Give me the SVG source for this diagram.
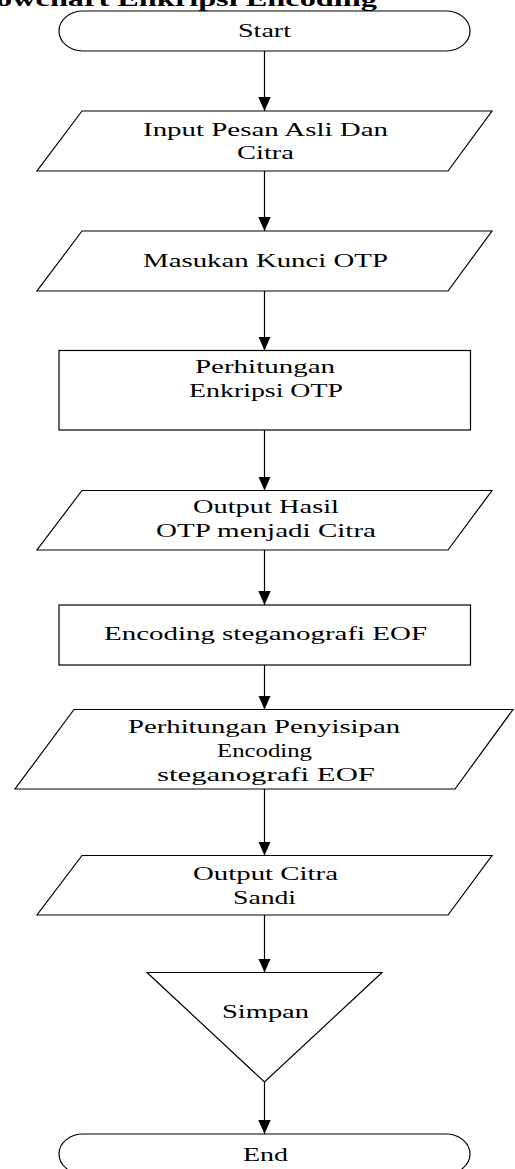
<svg xmlns="http://www.w3.org/2000/svg" width="515" height="1169" viewBox="0 0 515 1169">
<defs>
<style>
.s{fill:#fff;stroke:#000;stroke-width:1.2}
.c{stroke:#000;stroke-width:1.2;fill:none}
text{font-family:"Liberation Serif","Times New Roman",serif;font-size:19px;fill:#000}
.t{font-weight:bold;font-size:21px}
</style>
<marker id="ah" viewBox="0 0 12.4 14" refX="6.2" refY="14" markerWidth="12.4" markerHeight="14" markerUnits="userSpaceOnUse" orient="0">
<path d="M0,0 L12.4,0 L6.2,14 z" fill="#000"/>
</marker>
</defs>
<rect width="515" height="1169" fill="#fff"/>
<text class="t" x="-4" y="6" textLength="381" lengthAdjust="spacingAndGlyphs">owchart Enkripsi  Encoding</text>
<g id="connectors">
<line class="c" x1="264.5" y1="51" x2="264.5" y2="111" marker-end="url(#ah)"/>
<line class="c" x1="264.5" y1="171" x2="264.5" y2="231" marker-end="url(#ah)"/>
<line class="c" x1="264.5" y1="291" x2="264.5" y2="350.5" marker-end="url(#ah)"/>
<line class="c" x1="264.5" y1="430" x2="264.5" y2="490.5" marker-end="url(#ah)"/>
<line class="c" x1="264.5" y1="550" x2="264.5" y2="605" marker-end="url(#ah)"/>
<line class="c" x1="264.5" y1="665" x2="264.5" y2="709.5" marker-end="url(#ah)"/>
<line class="c" x1="264.5" y1="789" x2="264.5" y2="855.5" marker-end="url(#ah)"/>
<line class="c" x1="264.5" y1="915" x2="264.5" y2="972.5" marker-end="url(#ah)"/>
<line class="c" x1="264.5" y1="1082" x2="264.5" y2="1134" marker-end="url(#ah)"/>
</g>
<g id="start">
<rect class="s" x="59" y="11" width="411" height="40" rx="24" ry="20"/>
<text x="238" y="37" textLength="53" lengthAdjust="spacingAndGlyphs">Start</text>
</g>
<g id="input">
<polygon class="s" points="82,111 492,111 448,171 37,171"/>
<text x="143" y="135.7" textLength="245" lengthAdjust="spacingAndGlyphs">Input Pesan Asli Dan</text>
<text x="237" y="159.3" textLength="57" lengthAdjust="spacingAndGlyphs">Citra</text>
</g>
<g id="kunci">
<polygon class="s" points="82,231 492,231 448,291 37,291"/>
<text x="143" y="266.7" textLength="245" lengthAdjust="spacingAndGlyphs">Masukan Kunci OTP</text>
</g>
<g id="enkripsi">
<rect class="s" x="59" y="350.5" width="411.5" height="79.5"/>
<text x="195" y="372.7" textLength="140" lengthAdjust="spacingAndGlyphs">Perhitungan</text>
<text x="189" y="396.7" textLength="154" lengthAdjust="spacingAndGlyphs">Enkripsi OTP</text>
</g>
<g id="output-otp">
<polygon class="s" points="82,490.5 492,490.5 448,550 37,550"/>
<text x="193" y="513.3" textLength="146" lengthAdjust="spacingAndGlyphs">Output Hasil</text>
<text x="156" y="537.3" textLength="220" lengthAdjust="spacingAndGlyphs">OTP menjadi Citra</text>
</g>
<g id="encoding">
<rect class="s" x="59" y="605" width="411.5" height="60"/>
<text x="104" y="640" textLength="323" lengthAdjust="spacingAndGlyphs">Encoding steganografi EOF</text>
</g>
<g id="penyisipan">
<polygon class="s" points="74,709.5 513,709.5 455,789 15,789"/>
<text x="128" y="733.3" textLength="272" lengthAdjust="spacingAndGlyphs">Perhitungan Penyisipan</text>
<text x="217" y="757.3" textLength="95" lengthAdjust="spacingAndGlyphs">Encoding</text>
<text x="157" y="781" textLength="218" lengthAdjust="spacingAndGlyphs">steganografi EOF</text>
</g>
<g id="output-sandi">
<polygon class="s" points="82,855.5 492,855.5 448,915 37,915"/>
<text x="193" y="880" textLength="145" lengthAdjust="spacingAndGlyphs">Output Citra</text>
<text x="233" y="904" textLength="63" lengthAdjust="spacingAndGlyphs">Sandi</text>
</g>
<g id="simpan">
<polygon class="s" points="147,972.5 382,972.5 264.5,1082"/>
<text x="222" y="1018" textLength="87" lengthAdjust="spacingAndGlyphs">Simpan</text>
</g>
<g id="end">
<rect class="s" x="59" y="1134" width="411" height="40" rx="24" ry="20"/>
<text x="243" y="1161" textLength="45" lengthAdjust="spacingAndGlyphs">End</text>
</g>
</svg>
